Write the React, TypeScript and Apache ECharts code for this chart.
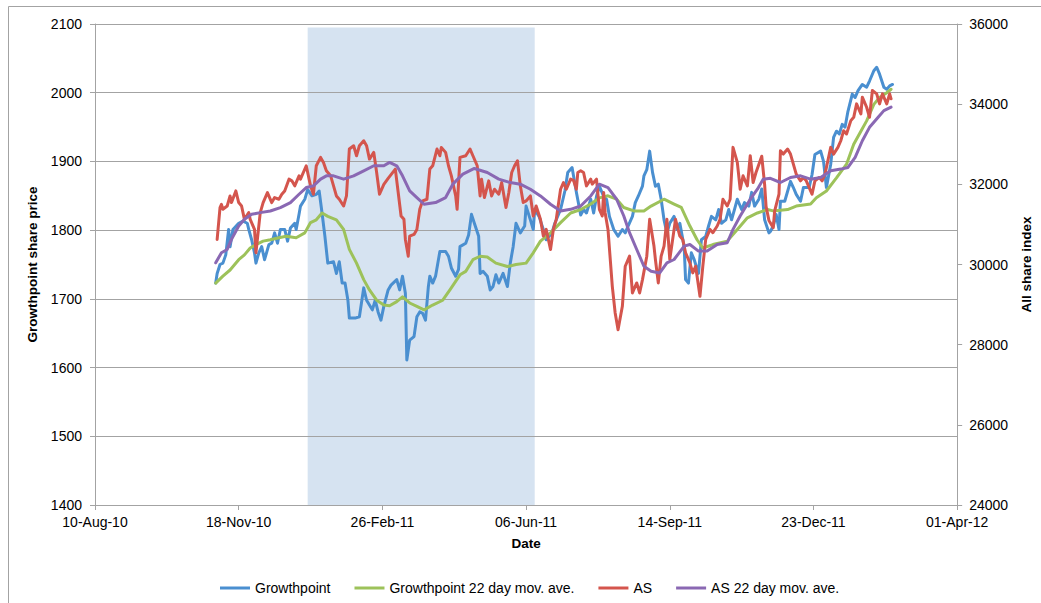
import React, { useEffect, useRef } from "react";
import * as echarts from "echarts";

// ---- Axis / date settings ----
const AXIS_START_DATE = "2010-08-10";
const AXIS_END_DATE = "2012-04-01";
const X_TICK_DAYS = 100;
const SHADE_START = "2011-01-05";
const SHADE_END = "2011-06-12";
const SHADE_TOP = 2095;

const LEFT_MIN = 1400;
const LEFT_MAX = 2100;
const LEFT_STEP = 100;
const RIGHT_MIN = 24000;
const RIGHT_MAX = 36000;
const RIGHT_STEP = 2000;

const MONTHS = ["Jan", "Feb", "Mar", "Apr", "May", "Jun", "Jul", "Aug", "Sep", "Oct", "Nov", "Dec"];

const SERIES_NAMES = ["Growthpoint", "Growthpoint 22 day mov. ave.", "AS", "AS 22 day mov. ave."];

// ---- Data ----
const growthpoint: [string, number][] = [
  ["2010-11-02", 1723], ["2010-11-03", 1737], ["2010-11-05", 1750], ["2010-11-07", 1752], ["2010-11-09", 1764],
  ["2010-11-11", 1801], ["2010-11-12", 1776], ["2010-11-14", 1801], ["2010-11-18", 1810], ["2010-11-21", 1813],
  ["2010-11-24", 1810], ["2010-11-25", 1801], ["2010-11-27", 1786], ["2010-11-29", 1767], ["2010-11-30", 1752],
  ["2010-12-02", 1767], ["2010-12-04", 1776], ["2010-12-06", 1757], ["2010-12-09", 1779], ["2010-12-11", 1781],
  ["2010-12-13", 1796], ["2010-12-15", 1781], ["2010-12-17", 1801], ["2010-12-20", 1801], ["2010-12-22", 1784],
  ["2010-12-24", 1803], ["2010-12-27", 1810], ["2010-12-28", 1801], ["2010-12-30", 1823], ["2010-12-31", 1835],
  ["2011-01-03", 1845], ["2011-01-05", 1859], ["2011-01-08", 1850], ["2011-01-11", 1852], ["2011-01-13", 1857],
  ["2011-01-15", 1825], ["2011-01-17", 1791], ["2011-01-19", 1752], ["2011-01-23", 1754], ["2011-01-25", 1737],
  ["2011-01-27", 1754], ["2011-01-29", 1723], ["2011-01-31", 1723], ["2011-02-02", 1698], ["2011-02-03", 1672],
  ["2011-02-07", 1672], ["2011-02-10", 1674], ["2011-02-13", 1716], ["2011-02-15", 1698], ["2011-02-19", 1684],
  ["2011-02-21", 1698], ["2011-02-23", 1681], ["2011-02-25", 1669], ["2011-02-27", 1689], ["2011-03-02", 1713],
  ["2011-03-04", 1720], ["2011-03-08", 1728], ["2011-03-10", 1713], ["2011-03-12", 1733], ["2011-03-14", 1708],
  ["2011-03-15", 1611], ["2011-03-17", 1640], ["2011-03-20", 1645], ["2011-03-22", 1674], ["2011-03-24", 1681],
  ["2011-03-26", 1679], ["2011-03-28", 1669], ["2011-03-30", 1718], ["2011-03-31", 1733], ["2011-04-02", 1723],
  ["2011-04-04", 1733], ["2011-04-07", 1769], ["2011-04-11", 1769], ["2011-04-13", 1762], ["2011-04-15", 1745],
  ["2011-04-18", 1733], ["2011-04-20", 1743], ["2011-04-21", 1776], ["2011-04-25", 1781], ["2011-04-27", 1793],
  ["2011-04-29", 1823], ["2011-05-01", 1810], ["2011-05-04", 1791], ["2011-05-05", 1737], ["2011-05-07", 1740],
  ["2011-05-10", 1733], ["2011-05-12", 1713], ["2011-05-14", 1718], ["2011-05-16", 1735], ["2011-05-18", 1723],
  ["2011-05-21", 1737], ["2011-05-24", 1718], ["2011-05-26", 1752], ["2011-05-28", 1776], ["2011-05-30", 1810],
  ["2011-06-02", 1796], ["2011-06-05", 1806], ["2011-06-06", 1835], ["2011-06-09", 1815], ["2011-06-11", 1801],
  ["2011-06-12", 1830], ["2011-06-15", 1820], ["2011-06-18", 1801], ["2011-06-20", 1786], ["2011-06-24", 1796],
  ["2011-06-26", 1810], ["2011-06-30", 1830], ["2011-07-03", 1857], ["2011-07-05", 1884], ["2011-07-08", 1891],
  ["2011-07-11", 1855], ["2011-07-14", 1822], ["2011-07-16", 1830], ["2011-07-18", 1825], ["2011-07-21", 1845],
  ["2011-07-23", 1825], ["2011-07-25", 1849], ["2011-07-27", 1864], ["2011-07-30", 1849], ["2011-08-01", 1845],
  ["2011-08-03", 1820], ["2011-08-06", 1801], ["2011-08-09", 1791], ["2011-08-12", 1801], ["2011-08-14", 1796],
  ["2011-08-16", 1806], ["2011-08-19", 1820], ["2011-08-21", 1840], ["2011-08-23", 1849], ["2011-08-26", 1864],
  ["2011-08-27", 1879], ["2011-08-29", 1888], ["2011-08-31", 1915], ["2011-09-02", 1884], ["2011-09-04", 1864],
  ["2011-09-06", 1867], ["2011-09-08", 1845], ["2011-09-10", 1815], ["2011-09-12", 1796], ["2011-09-14", 1810],
  ["2011-09-17", 1820], ["2011-09-19", 1801], ["2011-09-21", 1810], ["2011-09-24", 1776], ["2011-09-25", 1728],
  ["2011-09-27", 1723], ["2011-09-29", 1767], ["2011-10-01", 1757], ["2011-10-04", 1737], ["2011-10-06", 1786],
  ["2011-10-09", 1791], ["2011-10-11", 1806], ["2011-10-13", 1820], ["2011-10-16", 1815], ["2011-10-18", 1830],
  ["2011-10-20", 1810], ["2011-10-23", 1815], ["2011-10-25", 1830], ["2011-10-27", 1815], ["2011-10-29", 1830],
  ["2011-10-31", 1845], ["2011-11-03", 1830], ["2011-11-05", 1840], ["2011-11-08", 1835], ["2011-11-10", 1855],
  ["2011-11-12", 1835], ["2011-11-15", 1845], ["2011-11-17", 1860], ["2011-11-19", 1815], ["2011-11-22", 1796],
  ["2011-11-23", 1798], ["2011-11-25", 1806], ["2011-11-27", 1823], ["2011-11-29", 1801], ["2011-11-30", 1842],
  ["2011-12-03", 1842], ["2011-12-07", 1871], ["2011-12-09", 1862], ["2011-12-11", 1852], ["2011-12-14", 1842],
  ["2011-12-16", 1862], ["2011-12-20", 1862], ["2011-12-22", 1881], ["2011-12-24", 1910], ["2011-12-28", 1915],
  ["2011-12-30", 1900], ["2012-01-01", 1862], ["2012-01-04", 1896], ["2012-01-06", 1935], ["2012-01-08", 1944],
  ["2012-01-10", 1940], ["2012-01-12", 1954], ["2012-01-14", 1950], ["2012-01-16", 1973], ["2012-01-19", 1998],
  ["2012-01-21", 1993], ["2012-01-23", 2003], ["2012-01-26", 2012], ["2012-01-29", 2008], ["2012-01-31", 2017],
  ["2012-02-03", 2032], ["2012-02-05", 2037], ["2012-02-07", 2027], ["2012-02-10", 2008], ["2012-02-12", 2005],
  ["2012-02-14", 2010], ["2012-02-16", 2012],
];

const growthpointMA: [string, number][] = [
  ["2010-11-02", 1723], ["2010-11-07", 1733], ["2010-11-12", 1742], ["2010-11-18", 1757], ["2010-11-22", 1764],
  ["2010-11-26", 1774], ["2010-11-30", 1779], ["2010-12-05", 1784], ["2010-12-10", 1786], ["2010-12-16", 1789],
  ["2010-12-21", 1791], ["2010-12-28", 1789], ["2011-01-03", 1796], ["2011-01-07", 1811], ["2011-01-11", 1815],
  ["2011-01-15", 1825], ["2011-01-19", 1820], ["2011-01-25", 1815], ["2011-01-30", 1801], ["2011-02-03", 1772],
  ["2011-02-08", 1752], ["2011-02-13", 1728], ["2011-02-17", 1713], ["2011-02-22", 1698], ["2011-02-27", 1691],
  ["2011-03-03", 1690], ["2011-03-08", 1696], ["2011-03-12", 1703], ["2011-03-17", 1694], ["2011-03-22", 1689],
  ["2011-03-27", 1684], ["2011-04-02", 1691], ["2011-04-09", 1698], ["2011-04-14", 1713], ["2011-04-21", 1735],
  ["2011-04-25", 1740], ["2011-04-30", 1757], ["2011-05-05", 1762], ["2011-05-10", 1761], ["2011-05-16", 1752],
  ["2011-05-24", 1747], ["2011-05-30", 1750], ["2011-06-06", 1752], ["2011-06-11", 1767], ["2011-06-16", 1784],
  ["2011-06-23", 1796], ["2011-06-30", 1811], ["2011-07-07", 1825], ["2011-07-14", 1830], ["2011-07-21", 1838],
  ["2011-07-27", 1847], ["2011-08-02", 1850], ["2011-08-08", 1845], ["2011-08-13", 1833], ["2011-08-20", 1828],
  ["2011-08-27", 1828], ["2011-09-01", 1835], ["2011-09-10", 1845], ["2011-09-17", 1838], ["2011-09-22", 1833],
  ["2011-09-28", 1806], ["2011-10-03", 1786], ["2011-10-07", 1774], ["2011-10-14", 1779], ["2011-10-24", 1784],
  ["2011-10-31", 1801], ["2011-11-07", 1818], ["2011-11-14", 1825], ["2011-11-21", 1830], ["2011-11-25", 1828],
  ["2011-12-05", 1830], ["2011-12-11", 1835], ["2011-12-21", 1838], ["2011-12-25", 1847], ["2012-01-01", 1857],
  ["2012-01-08", 1876], ["2012-01-15", 1896], ["2012-01-20", 1925], ["2012-01-25", 1944], ["2012-01-29", 1959],
  ["2012-02-03", 1983], ["2012-02-07", 1993], ["2012-02-12", 2000], ["2012-02-15", 2005],
];

const allShare: [string, number][] = [
  ["2010-11-03", 30626], ["2010-11-05", 31420], ["2010-11-06", 31502], ["2010-11-07", 31377], ["2010-11-10", 31460],
  ["2010-11-12", 31710], ["2010-11-13", 31545], ["2010-11-16", 31836], ["2010-11-18", 31545], ["2010-11-20", 31460],
  ["2010-11-22", 31127], ["2010-11-25", 31294], ["2010-11-26", 31127], ["2010-11-29", 30876], ["2010-11-30", 30293],
  ["2010-12-03", 31294], ["2010-12-05", 31545], ["2010-12-08", 31795], ["2010-12-11", 31545], ["2010-12-13", 31670],
  ["2010-12-16", 31628], ["2010-12-18", 31753], ["2010-12-20", 31836], ["2010-12-23", 32129], ["2010-12-25", 32087],
  ["2010-12-27", 31962], ["2010-12-30", 32212], ["2010-12-31", 32129], ["2011-01-04", 32463], ["2011-01-07", 31962],
  ["2011-01-09", 31753], ["2011-01-11", 32463], ["2011-01-14", 32672], ["2011-01-16", 32547], ["2011-01-18", 32338],
  ["2011-01-21", 32212], ["2011-01-23", 31962], ["2011-01-25", 31710], ["2011-01-27", 31628], ["2011-01-30", 31460],
  ["2011-02-01", 31710], ["2011-02-03", 32880], ["2011-02-06", 32963], ["2011-02-08", 32713], ["2011-02-10", 32963],
  ["2011-02-13", 33088], ["2011-02-15", 32963], ["2011-02-17", 32630], ["2011-02-20", 32797], ["2011-02-22", 32296],
  ["2011-02-24", 31753], ["2011-02-27", 32000], ["2011-03-02", 32150], ["2011-03-07", 32380], ["2011-03-09", 31795],
  ["2011-03-11", 31210], ["2011-03-13", 31127], ["2011-03-14", 30626], ["2011-03-16", 30208], ["2011-03-17", 30709],
  ["2011-03-20", 30751], ["2011-03-22", 30876], ["2011-03-24", 31377], ["2011-03-26", 31587], ["2011-03-29", 31628],
  ["2011-03-31", 32380], ["2011-04-02", 32463], ["2011-04-05", 32880], ["2011-04-07", 32713], ["2011-04-08", 32921],
  ["2011-04-11", 32797], ["2011-04-13", 32463], ["2011-04-15", 32212], ["2011-04-18", 31710], ["2011-04-19", 31377],
  ["2011-04-21", 32672], ["2011-04-25", 32713], ["2011-04-28", 32880], ["2011-04-30", 32713], ["2011-05-03", 32463],
  ["2011-05-05", 31710], ["2011-05-06", 32129], ["2011-05-08", 31670], ["2011-05-11", 32087], ["2011-05-13", 31710],
  ["2011-05-15", 31878], ["2011-05-18", 31753], ["2011-05-20", 32045], ["2011-05-23", 31420], ["2011-05-25", 31795],
  ["2011-05-27", 32296], ["2011-05-29", 32463], ["2011-05-31", 32588], ["2011-06-02", 31962], ["2011-06-04", 31545],
  ["2011-06-06", 31587], ["2011-06-09", 31710], ["2011-06-11", 31210], ["2011-06-13", 31460], ["2011-06-16", 31127],
  ["2011-06-18", 30709], ["2011-06-20", 30876], ["2011-06-23", 30375], ["2011-06-25", 30876], ["2011-06-27", 31127],
  ["2011-06-30", 31878], ["2011-07-02", 32045], ["2011-07-04", 31878], ["2011-07-07", 32129], ["2011-07-09", 32100],
  ["2011-07-11", 31878], ["2011-07-12", 32296], ["2011-07-14", 32338], ["2011-07-16", 32296], ["2011-07-18", 31962],
  ["2011-07-21", 32129], ["2011-07-22", 32004], ["2011-07-25", 32129], ["2011-07-27", 31377], ["2011-07-29", 31210],
  ["2011-07-30", 31795], ["2011-07-31", 31294], ["2011-08-02", 30876], ["2011-08-05", 29456], ["2011-08-07", 28790],
  ["2011-08-09", 28372], ["2011-08-12", 28957], ["2011-08-14", 29957], ["2011-08-17", 30208], ["2011-08-19", 29290],
  ["2011-08-22", 29540], ["2011-08-24", 29290], ["2011-08-26", 29623], ["2011-08-29", 30208], ["2011-08-31", 31127],
  ["2011-09-03", 30459], ["2011-09-04", 30125], ["2011-09-06", 29540], ["2011-09-08", 30208], ["2011-09-10", 30459],
  ["2011-09-12", 31127], ["2011-09-14", 30125], ["2011-09-17", 30876], ["2011-09-18", 31127], ["2011-09-21", 30709],
  ["2011-09-23", 30626], ["2011-09-25", 30292], ["2011-09-28", 30042], ["2011-09-30", 29790], ["2011-10-02", 29957],
  ["2011-10-05", 29206], ["2011-10-07", 29957], ["2011-10-09", 30626], ["2011-10-12", 30876], ["2011-10-14", 30793],
  ["2011-10-17", 30960], ["2011-10-19", 31127], ["2011-10-21", 31628], ["2011-10-24", 31460], ["2011-10-26", 31628],
  ["2011-10-28", 32922], ["2011-10-31", 32547], ["2011-11-02", 31878], ["2011-11-04", 32212], ["2011-11-07", 31962],
  ["2011-11-09", 32713], ["2011-11-11", 32045], ["2011-11-13", 32296], ["2011-11-17", 32700], ["2011-11-19", 32000],
  ["2011-11-20", 31450], ["2011-11-22", 31100], ["2011-11-25", 30919], ["2011-11-26", 31335], ["2011-11-29", 31753],
  ["2011-11-30", 32838], ["2011-12-02", 32755], ["2011-12-05", 32880], ["2011-12-07", 32755], ["2011-12-09", 32505],
  ["2011-12-11", 32254], ["2011-12-14", 32087], ["2011-12-16", 32171], ["2011-12-18", 32087], ["2011-12-21", 31836],
  ["2011-12-22", 31753], ["2011-12-24", 32087], ["2011-12-27", 32171], ["2011-12-29", 32087], ["2011-12-31", 32254],
  ["2012-01-02", 32589], ["2012-01-04", 32922], ["2012-01-06", 32755], ["2012-01-09", 32922], ["2012-01-11", 33088],
  ["2012-01-13", 33338], ["2012-01-15", 33255], ["2012-01-18", 33589], ["2012-01-20", 33672], ["2012-01-22", 34007],
  ["2012-01-25", 33755], ["2012-01-26", 34175], ["2012-01-29", 33923], ["2012-01-31", 33672], ["2012-02-02", 34341],
  ["2012-02-05", 34258], ["2012-02-07", 34007], ["2012-02-09", 34258], ["2012-02-12", 34007], ["2012-02-14", 34258],
  ["2012-02-15", 34133],
];

const allShareMA: [string, number][] = [
  ["2010-11-02", 30042], ["2010-11-06", 30293], ["2010-11-10", 30376], ["2010-11-13", 30626], ["2010-11-18", 30960],
  ["2010-11-22", 31127], ["2010-11-27", 31252], ["2010-12-03", 31294], ["2010-12-10", 31335], ["2010-12-17", 31420],
  ["2010-12-24", 31545], ["2010-12-30", 31753], ["2011-01-04", 31920], ["2011-01-09", 31962], ["2011-01-14", 32129],
  ["2011-01-18", 32212], ["2011-01-23", 32212], ["2011-01-30", 32129], ["2011-02-06", 32212], ["2011-02-13", 32338],
  ["2011-02-20", 32463], ["2011-02-27", 32463], ["2011-03-03", 32547], ["2011-03-08", 32463], ["2011-03-12", 32212],
  ["2011-03-17", 31836], ["2011-03-22", 31670], ["2011-03-27", 31503], ["2011-04-04", 31545], ["2011-04-11", 31670],
  ["2011-04-16", 32004], ["2011-04-23", 32254], ["2011-05-01", 32396], ["2011-05-10", 32296], ["2011-05-18", 32129],
  ["2011-05-26", 32045], ["2011-06-02", 32004], ["2011-06-09", 31878], ["2011-06-16", 31710], ["2011-06-23", 31503],
  ["2011-06-30", 31335], ["2011-07-07", 31377], ["2011-07-14", 31460], ["2011-07-21", 31710], ["2011-07-27", 32004],
  ["2011-08-02", 31920], ["2011-08-08", 31628], ["2011-08-13", 31210], ["2011-08-17", 30793], ["2011-08-22", 30375],
  ["2011-08-27", 29957], ["2011-09-01", 29832], ["2011-09-07", 29790], ["2011-09-12", 30042], ["2011-09-17", 30125],
  ["2011-09-24", 30459], ["2011-09-28", 30500], ["2011-10-04", 30334], ["2011-10-10", 30334], ["2011-10-17", 30500],
  ["2011-10-24", 30542], ["2011-10-28", 30876], ["2011-11-02", 31210], ["2011-11-09", 31628], ["2011-11-14", 31878],
  ["2011-11-18", 32129], ["2011-11-23", 32150], ["2011-11-30", 32046], ["2011-12-07", 32171], ["2011-12-14", 32212],
  ["2011-12-21", 32129], ["2011-12-28", 32171], ["2012-01-04", 32338], ["2012-01-11", 32380], ["2012-01-16", 32421],
  ["2012-01-21", 32672], ["2012-01-26", 33088], ["2012-01-31", 33422], ["2012-02-06", 33672], ["2012-02-10", 33839],
  ["2012-02-15", 33925],
];

// ---- Helpers ----
const DAY_MS = 86400000;
const baseMs = Date.parse(AXIS_START_DATE);
const toDay = (s: string) => Math.round((Date.parse(s) - baseMs) / DAY_MS);
const fmtDate = (dayOffset: number) => {
  const d = new Date(baseMs + dayOffset * DAY_MS);
  const dd = String(d.getUTCDate()).padStart(2, "0");
  const yy = String(d.getUTCFullYear()).slice(2);
  return `${dd}-${MONTHS[d.getUTCMonth()]}-${yy}`;
};
const toXY = (arr: [string, number][]) => arr.map(([d, v]) => [toDay(d), v]);

const FONT = "'Liberation Sans', Arial, Helvetica, sans-serif";
const GRID_GREY = "#a3a3a3";
const COLORS = ["#4a8fd0", "#9dc25a", "#d4554d", "#8a68b3"];

export default function App() {
  const ref = useRef<HTMLDivElement>(null);

  useEffect(() => {
    document.body.style.margin = "0";
    if (!ref.current) return;
    const chart = echarts.init(ref.current, undefined, { renderer: "svg" });

    const axisLine = { show: true, lineStyle: { color: GRID_GREY, width: 1 } };
    const axisTick = { show: true, inside: false, length: 5, lineStyle: { color: GRID_GREY } };
    const labelStyle = { color: "#000", fontFamily: FONT, fontSize: 14 };
    const nameStyle = { color: "#000", fontFamily: FONT, fontSize: 13.5, fontWeight: "bold" as const };
    const plainNumber = (v: number) => String(v);

    const lineSeries = (name: string, data: [string, number][], yAxisIndex: number, color: string, extra: any = {}) => ({
      name,
      type: "line",
      yAxisIndex,
      data: toXY(data),
      showSymbol: false,
      symbol: "none",
      smooth: false,
      color,
      lineStyle: { color, width: 3, join: "round", cap: "round" },
      emphasis: { disabled: true },
      ...extra,
    });

    chart.setOption({
      animation: false,
      backgroundColor: "#fff",
      textStyle: { fontFamily: FONT },
      graphic: [
        {
          type: "rect",
          silent: true,
          shape: { x: 8.5, y: 6.5, width: 1200, height: 800 },
          style: { fill: "none", stroke: GRID_GREY, lineWidth: 1 },
          z: -10,
        },
      ],
      grid: { left: 95, right: 83, top: 24, bottom: 98, containLabel: false },
      legend: {
        left: 215,
        top: 576,
        icon: "rect",
        itemWidth: 30,
        itemHeight: 3,
        itemGap: 24,
        textStyle: { ...labelStyle },
        data: SERIES_NAMES,
      },
      xAxis: {
        type: "value",
        min: 0,
        max: toDay(AXIS_END_DATE),
        interval: X_TICK_DAYS,
        name: "Date",
        nameLocation: "middle",
        nameGap: 31,
        nameTextStyle: nameStyle,
        z: 1.5,
        axisLine,
        axisTick,
        splitLine: { show: false },
        axisLabel: { ...labelStyle, margin: 10, formatter: (v: number) => fmtDate(v) },
      },
      yAxis: [
        {
          type: "value",
          position: "left",
          min: LEFT_MIN,
          max: LEFT_MAX,
          interval: LEFT_STEP,
          name: "Growthpoint share price",
          nameLocation: "middle",
          nameGap: 34,
          nameTextStyle: nameStyle,
          z: 1.5,
          axisLine,
          axisTick,
          splitLine: { show: true, lineStyle: { color: GRID_GREY, width: 1 } },
          axisLabel: { ...labelStyle, margin: 13, formatter: plainNumber },
        },
        {
          type: "value",
          position: "right",
          min: RIGHT_MIN,
          max: RIGHT_MAX,
          interval: RIGHT_STEP,
          name: "All share index",
          nameLocation: "middle",
          nameGap: 53,
          nameTextStyle: nameStyle,
          z: 1.5,
          axisLine,
          axisTick,
          splitLine: { show: false },
          axisLabel: { ...labelStyle, margin: 12, formatter: plainNumber },
        },
      ],
      series: [
        lineSeries(SERIES_NAMES[0], growthpoint, 0, COLORS[0], {
          markArea: {
            silent: true,
            z: 1,
            itemStyle: { color: "#d6e3f1", borderWidth: 0 },
            label: { show: false },
            data: [[{ coord: [toDay(SHADE_START), LEFT_MIN] }, { coord: [toDay(SHADE_END), SHADE_TOP] }]],
          },
        }),
        lineSeries(SERIES_NAMES[1], growthpointMA, 0, COLORS[1]),
        lineSeries(SERIES_NAMES[2], allShare, 1, COLORS[2]),
        lineSeries(SERIES_NAMES[3], allShareMA, 1, COLORS[3]),
      ],
    });

    return () => chart.dispose();
  }, []);

  return <div ref={ref} style={{ width: 1041, height: 603 }} />;
}
